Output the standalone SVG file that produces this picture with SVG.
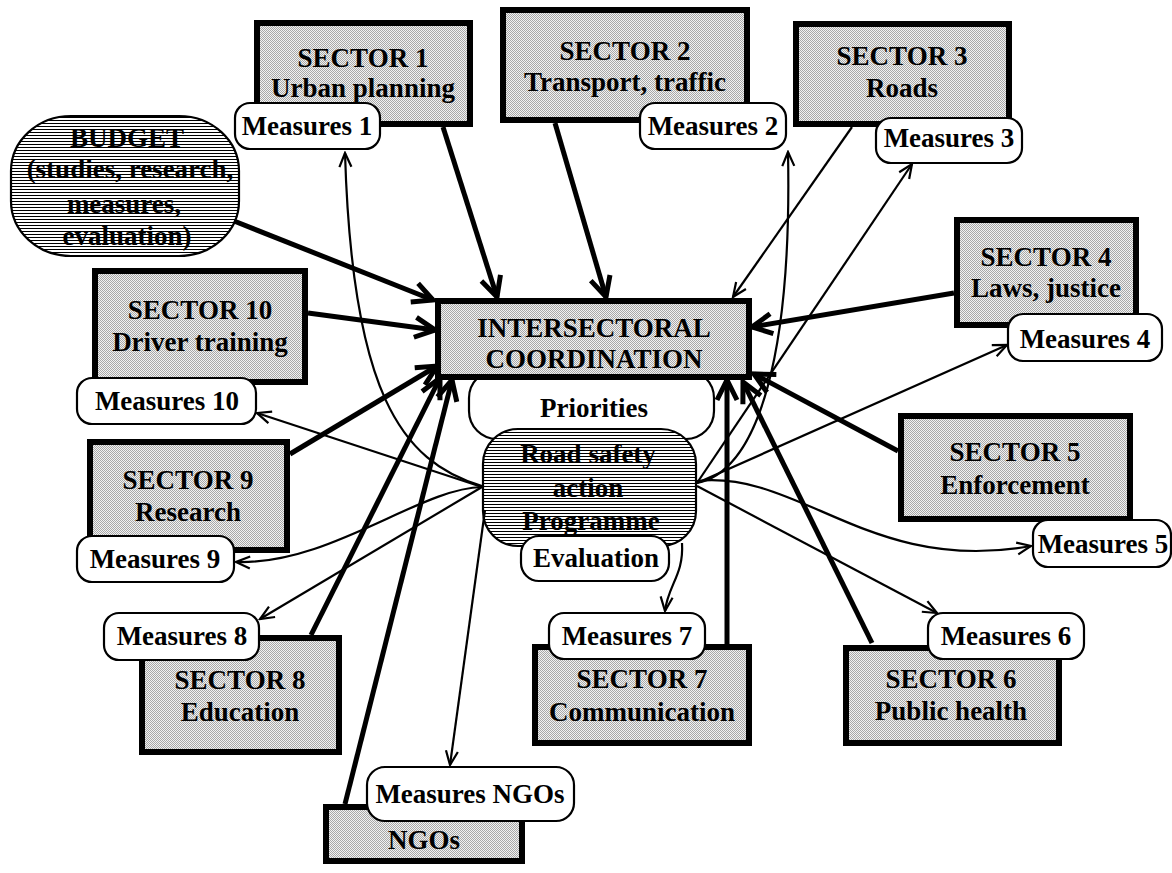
<svg xmlns="http://www.w3.org/2000/svg" width="1172" height="873" viewBox="0 0 1172 873">
<style>
text{font-family:"Liberation Serif","Times New Roman",serif;font-weight:bold;font-size:27px;text-anchor:middle;fill:#000}
.sector{fill:url(#dots);stroke:#000;stroke-width:6}
.meas{fill:#fff;stroke:#000;stroke-width:2.2}
.hatch{fill:url(#hatch);stroke:#000;stroke-width:2.2}
.thick{fill:none;stroke:#000;stroke-width:5;marker-end:url(#aThick)}
.thin{fill:none;stroke:#000;stroke-width:2.2;marker-end:url(#aThin)}
</style>
<defs>
<pattern id="dots" width="2" height="2" patternUnits="userSpaceOnUse">
<rect width="2" height="2" fill="#f2f2f2"/>
<rect width="1" height="1" fill="#a8a8a8"/>
<rect x="1" y="1" width="1" height="1" fill="#a8a8a8"/>
</pattern>
<pattern id="hatch" width="3" height="3" patternUnits="userSpaceOnUse">
<rect width="3" height="3" fill="#fff"/>
<rect width="3" height="1" fill="#000"/>
</pattern>
<marker id="aThick" viewBox="0 0 26 26" refX="23" refY="13" markerWidth="26" markerHeight="26" markerUnits="userSpaceOnUse" orient="auto">
<path d="M3,3 L23,13 L3,23" fill="none" stroke="#000" stroke-width="5"/>
</marker>
<marker id="aThin" viewBox="0 0 18 18" refX="16" refY="9" markerWidth="18" markerHeight="18" markerUnits="userSpaceOnUse" orient="auto">
<path d="M2,3 L16,9 L2,15" fill="none" stroke="#000" stroke-width="2.2"/>
</marker>
</defs>
<rect width="1172" height="873" fill="#fff"/>

<g id="sector1"><rect class="sector" x="257" y="23" width="213" height="101"/><text x="363" y="67">SECTOR 1</text><text x="363" y="97">Urban planning</text></g>
<g id="sector2"><rect class="sector" x="503" y="10" width="244" height="110"/><text x="625" y="60">SECTOR 2</text><text x="625" y="91">Transport, traffic</text></g>
<g id="sector3"><rect class="sector" x="796" y="24" width="213" height="100"/><text x="902" y="65">SECTOR 3</text><text x="902" y="97">Roads</text></g>
<g id="sector4"><rect class="sector" x="957" y="220" width="179" height="105"/><text x="1046" y="266">SECTOR 4</text><text x="1046" y="297">Laws, justice</text></g>
<g id="sector5"><rect class="sector" x="901" y="416" width="229" height="103"/><text x="1015" y="461">SECTOR 5</text><text x="1015" y="494">Enforcement</text></g>
<g id="sector6"><rect class="sector" x="846" y="648" width="213" height="95"/><text x="951" y="688">SECTOR 6</text><text x="951" y="720">Public health</text></g>
<g id="sector7"><rect class="sector" x="535" y="647" width="214" height="96"/><text x="642" y="688">SECTOR 7</text><text x="642" y="721">Communication</text></g>
<g id="sector8"><rect class="sector" x="142" y="638" width="197" height="114"/><text x="240" y="689">SECTOR 8</text><text x="240" y="721">Education</text></g>
<g id="ngos"><rect class="sector" x="326" y="807" width="196" height="54"/><text x="424" y="849">NGOs</text></g>
<g id="sector9"><rect class="sector" x="90" y="442" width="197" height="108"/><text x="188" y="489">SECTOR 9</text><text x="188" y="521">Research</text></g>
<g id="sector10"><rect class="sector" x="95" y="271" width="210" height="111"/><text x="200" y="319">SECTOR 10</text><text x="200" y="351">Driver training</text></g>

<g id="budget"><rect class="hatch" x="11" y="116" width="228" height="140" rx="60" ry="55"/><text x="127" y="147">BUDGET</text><text x="130" y="178">(studies, research,</text><text x="124" y="213">measures,</text><text x="127" y="245">evaluation)</text></g>

<g id="priorities"><rect class="meas" x="469" y="370" width="245" height="69" rx="28"/><text x="594" y="417">Priorities</text></g>
<g id="coordination"><rect class="sector" x="438" y="301" width="311" height="76"/><text x="594" y="337">INTERSECTORAL</text><text x="594" y="368">COORDINATION</text></g>
<g id="programme"><rect class="hatch" x="483" y="429" width="213" height="117" rx="35"/><text x="588" y="463">Road safety</text><text x="588" y="497">action</text><text x="591" y="530">Programme</text></g>
<g id="evaluation"><rect class="meas" x="521" y="536" width="148" height="45" rx="18"/><text x="596" y="567">Evaluation</text></g>

<g id="connectors">
<line class="thick" x1="234" y1="221" x2="433" y2="300"/>
<line class="thick" x1="443" y1="127" x2="497" y2="297"/>
<line class="thick" x1="555" y1="123" x2="606" y2="297"/>
<line class="thick" x1="308" y1="313" x2="435" y2="330"/>
<line class="thick" x1="290" y1="454" x2="437" y2="366"/>
<line class="thick" x1="311" y1="635" x2="440" y2="378"/>
<line class="thick" x1="345" y1="804" x2="452" y2="380"/>
<line class="thick" x1="727" y1="644" x2="727" y2="380"/>
<line class="thick" x1="872" y1="643" x2="743" y2="382"/>
<line class="thick" x1="898" y1="451" x2="754" y2="374"/>
<line class="thick" x1="954" y1="293" x2="752" y2="327"/>
<line class="thin" x1="852" y1="127" x2="733" y2="297"/>
<path class="thin" d="M482,486 C400,462 352,390 345,153"/>
<path class="thin" d="M697,483 C760,470 792,350 788,152"/>
<line class="thin" x1="697" y1="483" x2="912" y2="164"/>
<line class="thin" x1="697" y1="483" x2="1007" y2="345"/>
<path class="thin" d="M697,481 C800,470 870,575 1031,546"/>
<line class="thin" x1="697" y1="486" x2="937" y2="613"/>
<path class="thin" d="M682,543 C684,575 668,585 665,611"/>
<line class="thin" x1="482" y1="487" x2="260" y2="619"/>
<path class="thin" d="M482,487 C420,488 330,565 236,562"/>
<line class="thin" x1="482" y1="487" x2="257" y2="413"/>
<line class="thin" x1="485" y1="510" x2="450" y2="765"/>
</g>

<g id="measures1"><rect class="meas" x="235" y="103" width="145" height="46" rx="15"/><text x="307" y="135">Measures 1</text></g>
<g id="measures2"><rect class="meas" x="640" y="103" width="146" height="46" rx="15"/><text x="713" y="135">Measures 2</text></g>
<g id="measures3"><rect class="meas" x="876" y="118" width="146" height="45" rx="15"/><text x="949" y="147">Measures 3</text></g>
<g id="measures4"><rect class="meas" x="1008" y="314" width="154" height="47" rx="15"/><text x="1085" y="348">Measures 4</text></g>
<g id="measures5"><rect class="meas" x="1033" y="520" width="138" height="47" rx="15"/><text x="1103" y="553">Measures 5</text></g>
<g id="measures6"><rect class="meas" x="928" y="613" width="156" height="46" rx="15"/><text x="1006" y="645">Measures 6</text></g>
<g id="measures7"><rect class="meas" x="549" y="613" width="156" height="46" rx="15"/><text x="627" y="645">Measures 7</text></g>
<g id="measures8"><rect class="meas" x="104" y="613" width="155" height="47" rx="15"/><text x="182" y="645">Measures 8</text></g>
<g id="measures9"><rect class="meas" x="77" y="536" width="157" height="46" rx="15"/><text x="155" y="568">Measures 9</text></g>
<g id="measures10"><rect class="meas" x="77" y="378" width="179" height="46" rx="15"/><text x="167" y="410">Measures 10</text></g>
<g id="measuresNGOs"><rect class="meas" x="367" y="767" width="207" height="54" rx="18"/><text x="470" y="803">Measures NGOs</text></g>
</svg>
